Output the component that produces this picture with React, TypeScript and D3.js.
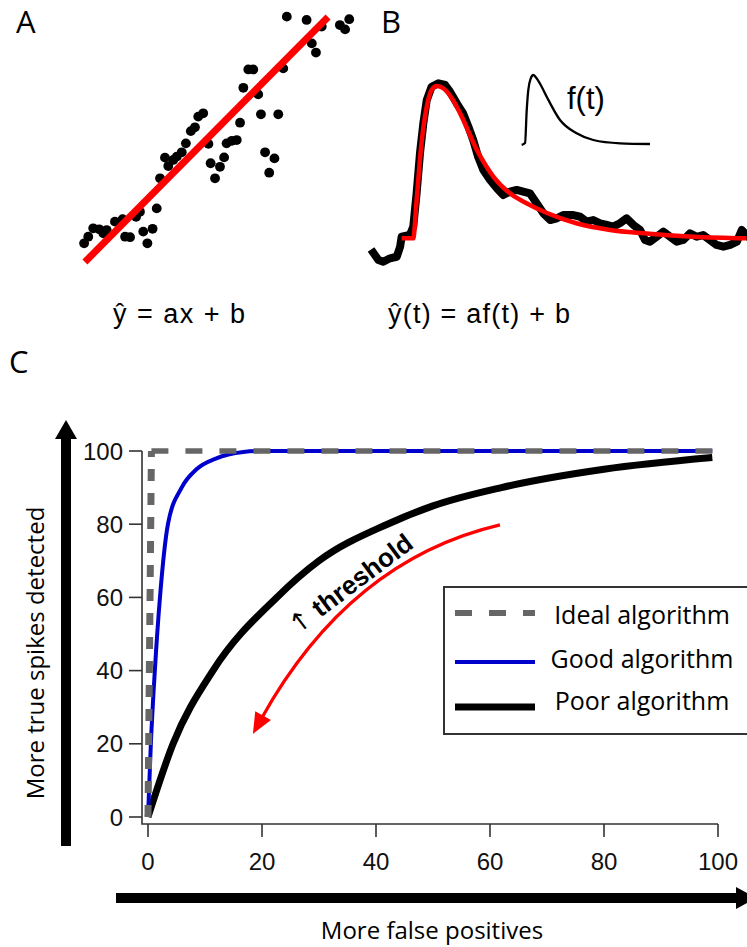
import React from 'react';
import * as d3 from 'd3';

// ---------- Panel A: scatter + linear fit ----------
const scatterPoints: [number, number][] = [
  [75.2, 97.4], [82.4, 96.1], [87.9, 93.5], [94.5, 94.1], [97.9, 96.4], [96.4, 92.4],
  [84.3, 86.9], [85.8, 83.3], [73.9, 77.1], [61.2, 76.7], [63.0, 76.7], [59.4, 69.5],
  [64.8, 66.9], [65.8, 59.1], [72.1, 59.1], [58.2, 55.8], [44.8, 59.5], [43.0, 58.2],
  [41.8, 54.0], [40.3, 52.5], [38.5, 47.7], [46.7, 47.5], [37.0, 44.2], [35.2, 42.5],
  [30.9, 42.1], [33.9, 41.2], [32.1, 38.8], [29.1, 34.0], [53.3, 47.7], [55.2, 48.7],
  [57.0, 49.0], [52.4, 42.2], [47.5, 39.9], [50.9, 38.5], [49.1, 34.0], [67.3, 44.2],
  [70.7, 41.8], [68.8, 36.2], [27.9, 22.2], [21.8, 20.9], [20.4, 18.9], [15.5, 18.0],
  [12.7, 17.0], [26.4, 14.2], [23.0, 13.1], [24.5, 8.5], [16.4, 11.1], [18.2, 10.9],
  [9.7, 13.7], [4.8, 14.4], [7.0, 14.0], [3.0, 11.1], [1.5, 8.5], [8.5, 12.4],
];
const fitSlopeA = 1.087;
const fitInterceptA = -0.76;
const fitRangeA: [number, number] = [1.8, 90.2];

// ---------- Panel B: trace + kernel fit ----------
const traceB: [number, number][] = [
  [0.35, -0.082], [1.7, -0.129], [3.0, -0.14], [4.8, -0.118], [6.6, -0.108], [7.5, -0.043],
  [7.9, 0.021], [10.1, 0.032], [11.0, 0.086], [11.9, 0.303], [12.8, 0.561], [13.7, 0.755],
  [14.6, 0.903], [15.9, 0.989], [17.7, 1.011], [19.5, 1.0], [20.8, 0.957], [22.6, 0.882],
  [24.3, 0.817], [25.7, 0.731], [27.0, 0.645], [28.3, 0.537], [29.7, 0.452], [31.5, 0.387],
  [33.3, 0.334], [35.0, 0.29], [36.8, 0.312], [38.6, 0.323], [40.3, 0.312], [42.1, 0.301],
  [43.9, 0.237], [45.7, 0.172], [47.5, 0.129], [49.3, 0.14], [51.0, 0.161], [53.7, 0.161],
  [55.5, 0.15], [57.3, 0.118], [59.0, 0.129], [60.8, 0.108], [62.6, 0.097], [64.3, 0.086],
  [66.1, 0.108], [67.9, 0.14], [69.7, 0.097], [71.5, 0.065], [72.8, 0.0], [74.1, -0.011],
  [75.9, 0.021], [77.7, 0.054], [79.5, 0.021], [81.3, -0.011], [83.0, 0.0], [84.8, 0.043],
  [86.6, 0.021], [88.3, 0.032], [90.1, 0.0], [91.9, -0.032], [93.7, -0.043], [95.5, -0.032],
  [97.3, -0.011], [98.6, 0.065], [99.9, 0.032],
];
const fitB: [number, number][] = [
  [7.9, 0.011], [11.0, 0.011], [11.9, 0.258], [13.2, 0.624], [14.6, 0.86], [15.9, 0.968],
  [17.3, 0.994], [19.0, 0.979], [21.3, 0.914], [23.5, 0.817], [28.0, 0.58], [32.4, 0.408],
  [36.8, 0.301], [41.2, 0.237], [46.5, 0.176], [54.5, 0.108], [63.5, 0.065], [72.4, 0.043],
  [85.7, 0.021], [99.9, 0.011],
];
const kernelB: [number, number][] = [
  [0.5, -0.014], [3.1, 0.014], [4.4, 0.49], [5.6, 0.78], [7.5, 0.95], [9.5, 1.0],
  [12.1, 0.95], [15.9, 0.83], [19.8, 0.685], [30, 0.348], [42.8, 0.155], [55.6, 0.058],
  [76.2, 0.01], [99.2, 0.0],
];

// ---------- Panel C: ROC curves ----------
const xTicksC = [0, 20, 40, 60, 80, 100];
const yTicksC = [0, 20, 40, 60, 80, 100];
const idealRise: [number, number][] = [[0, 0], [0.6, 100]];
const idealFlat: [number, number][] = [[0.6, 100], [99, 100]];
const goodCurve: [number, number][] = [
  [0, 0], [0.5, 20], [1.2, 40], [2.1, 60], [3.5, 80], [5.9, 90], [8.5, 95], [12, 98],
  [16.7, 99.7], [20, 100], [99, 100],
];
const poorCurve: [number, number][] = [
  [0, 0], [4.4, 20], [11.4, 40], [22.6, 60], [30, 70], [42, 80], [50, 85], [62, 90],
  [80, 95], [99, 98.2],
];
// threshold arrow: start, bend (control) and tip, in data units
const thresholdArrow: [number, number][] = [[61.75, 79.8], [35.4, 70.2], [18.4, 22.7]];
const legendLabels = ['Ideal algorithm', 'Good algorithm', 'Poor algorithm'];

const SANS = "'Open Sans', 'Noto Sans', sans-serif";
const ARIAL = "'Liberation Sans', Arial, sans-serif";

export default function App() {
  const xA = d3.scaleLinear([0, 100], [80, 355]);
  const yA = d3.scaleLinear([0, 100], [265, 10]);
  const xB = d3.scaleLinear([0, 100], [372, 747]);
  const yB = d3.scaleLinear([0, 1], [240, 85]);
  const xK = d3.scaleLinear([0, 100], [521, 651]);
  const yK = d3.scaleLinear([0, 1], [144, 75]);
  const xC = d3.scaleLinear([0, 100], [148, 718]);
  const yC = d3.scaleLinear([0, 100], [817, 451]);

  const lineB = d3.line<[number, number]>().x(d => xB(d[0])).y(d => yB(d[1]));
  const lineBs = d3.line<[number, number]>().x(d => xB(d[0])).y(d => yB(d[1])).curve(d3.curveMonotoneX);
  const lineK = d3.line<[number, number]>().x(d => xK(d[0])).y(d => yK(d[1])).curve(d3.curveMonotoneX);
  const lineC = d3.line<[number, number]>().x(d => xC(d[0])).y(d => yC(d[1]));
  const lineCs = d3.line<[number, number]>().x(d => xC(d[0])).y(d => yC(d[1])).curve(d3.curveMonotoneX);

  // red threshold arrow (quadratic curve through scales)
  const [s, c, e] = thresholdArrow.map(d => [xC(d[0]), yC(d[1])] as [number, number]);
  const ang = Math.atan2(e[1] - c[1], e[0] - c[0]);
  const headLen = 21, headHalf = 9;
  const base: [number, number] = [e[0] - headLen * Math.cos(ang), e[1] - headLen * Math.sin(ang)];
  const shaftEnd: [number, number] = [base[0] + 3 * Math.cos(ang), base[1] + 3 * Math.sin(ang)];
  const p = d3.path();
  p.moveTo(s[0], s[1]);
  p.quadraticCurveTo(c[0], c[1], shaftEnd[0], shaftEnd[1]);
  const head = `M${e[0]},${e[1]} L${base[0] - headHalf * Math.sin(ang)},${base[1] + headHalf * Math.cos(ang)} L${base[0] + headHalf * Math.sin(ang)},${base[1] - headHalf * Math.cos(ang)} Z`;

  const legendRowsLine = [613, 662, 707];
  const legendRowsText = [624, 668, 710];
  const axisColor = '#333';

  return (
    <svg width={747} height={947} style={{ position: 'absolute', left: 0, top: 0, background: '#fff' }}>
      <rect x={0} y={0} width={747} height={947} fill="#fff" />

      {/* ---------- Panel A ---------- */}
      <text x={16} y={33} fontFamily={SANS} fontSize={31} fill="#000">A</text>
      {scatterPoints.map((d, i) => (
        <circle key={i} cx={xA(d[0])} cy={yA(d[1])} r={4.9} fill="#000" />
      ))}
      <line
        x1={xA(fitRangeA[0])} y1={yA(fitSlopeA * fitRangeA[0] + fitInterceptA)}
        x2={xA(fitRangeA[1])} y2={yA(fitSlopeA * fitRangeA[1] + fitInterceptA)}
        stroke="#ff0000" strokeWidth={7}
      />
      <text x={113} y={323} fontFamily={ARIAL} fontSize={27} fill="#000" textLength={132} lengthAdjust="spacing">ŷ = ax + b</text>

      {/* ---------- Panel B ---------- */}
      <text x={381} y={33} fontFamily={SANS} fontSize={31} fill="#000">B</text>
      <path d={lineB(traceB) || ''} fill="none" stroke="#000" strokeWidth={8} strokeLinejoin="round" strokeLinecap="square" />
      <path d={lineBs(fitB) || ''} fill="none" stroke="#ff0000" strokeWidth={4.5} />
      <path d={lineK(kernelB) || ''} fill="none" stroke="#000" strokeWidth={2.3} />
      <text x={567} y={109} fontFamily={ARIAL} fontSize={31} fill="#000">f(t)</text>
      <text x={388} y={323} fontFamily={ARIAL} fontSize={27} fill="#000" textLength={182} lengthAdjust="spacing">ŷ(t) = af(t) + b</text>

      {/* ---------- Panel C ---------- */}
      <text x={9} y={373} fontFamily={SANS} fontSize={31} fill="#000">C</text>

      {/* big arrows */}
      <rect x={61} y={436} width={10} height={410} fill="#000" />
      <path d="M66,420 L77,439 L55,439 Z" fill="#000" />
      <rect x={116} y={893} width={622} height={10} fill="#000" />
      <path d="M756,898 L736,887 L736,909 Z" fill="#000" />

      {/* axis titles */}
      <text transform="translate(44,653) rotate(-90)" textAnchor="middle" fontFamily={SANS} fontSize={24} fill="#000">
        More true spikes detected
      </text>
      <text x={432} y={939} textAnchor="middle" fontFamily={SANS} fontSize={24} fill="#000">More false positives</text>

      {/* axes */}
      <path d={`M142,${yC(100)} L142,824 L${xC(100)},824`} fill="none" stroke={axisColor} strokeWidth={1.6} />
      {yTicksC.map(t => (
        <g key={'y' + t}>
          <line x1={129} x2={142} y1={yC(t)} y2={yC(t)} stroke={axisColor} strokeWidth={1.6} />
          <text x={123} y={yC(t) + 8.5} textAnchor="end" fontFamily={ARIAL} fontSize={24} fill="#111">{t}</text>
        </g>
      ))}
      {xTicksC.map(t => (
        <g key={'x' + t}>
          <line x1={xC(t)} x2={xC(t)} y1={824} y2={837} stroke={axisColor} strokeWidth={1.6} />
          <text x={xC(t)} y={870} textAnchor="middle" fontFamily={ARIAL} fontSize={24} fill="#111">{t}</text>
        </g>
      ))}

      {/* curves */}
      <path d={lineCs(poorCurve) || ''} fill="none" stroke="#000" strokeWidth={7} />
      <path d={lineCs(goodCurve) || ''} fill="none" stroke="#0000cc" strokeWidth={4} />
      <path d={lineC(idealRise) || ''} fill="none" stroke="#666" strokeWidth={7} strokeDasharray="12,12" />
      <path d={lineC(idealFlat) || ''} fill="none" stroke="#666" strokeWidth={5.5} strokeDasharray="17,17" />

      {/* threshold arrow */}
      <path d={p.toString()} fill="none" stroke="#ff0000" strokeWidth={3.2} />
      <path d={head} fill="#ff0000" />
      <text transform="translate(356,591) rotate(-37)" textAnchor="middle" fontFamily={ARIAL} fontWeight="bold" fontSize={26} fill="#000">
        <tspan fontFamily="'DejaVu Sans', sans-serif" fontWeight="normal">↑</tspan> threshold
      </text>

      {/* legend */}
      <rect x={444} y={587} width={310} height={147} fill="#fff" stroke={axisColor} strokeWidth={2} />
      <line x1={455} x2={535} y1={legendRowsLine[0]} y2={legendRowsLine[0]} stroke="#666" strokeWidth={6} strokeDasharray="17,17" />
      <line x1={455} x2={535} y1={legendRowsLine[1]} y2={legendRowsLine[1]} stroke="#0000cc" strokeWidth={4} />
      <line x1={455} x2={535} y1={legendRowsLine[2]} y2={legendRowsLine[2]} stroke="#000" strokeWidth={7} />
      {legendLabels.map((l, i) => (
        <text key={l} x={642} y={legendRowsText[i]} textAnchor="middle" fontFamily={SANS} fontSize={25} fill="#000">{l}</text>
      ))}
    </svg>
  );
}
